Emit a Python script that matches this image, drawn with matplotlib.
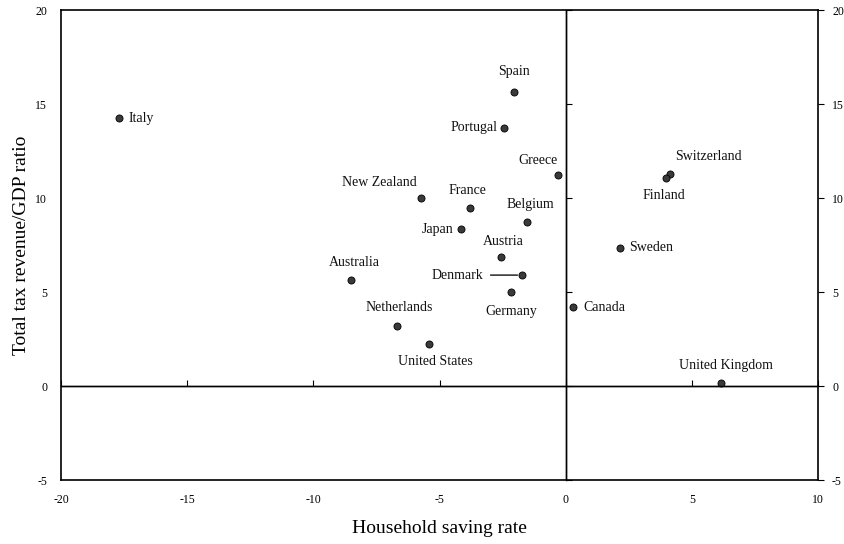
import matplotlib
matplotlib.use("Agg")
import matplotlib.pyplot as plt

plt.rcParams['font.family'] = ['Liberation Serif', 'DejaVu Serif']
plt.rcParams['axes.unicode_minus'] = False

# ===== データ =====
countries = ["Italy", "Spain", "Portugal", "Greece", "New Zealand", "France",
             "Belgium", "Japan", "Austria", "Denmark", "Australia", "Germany",
             "Netherlands", "United States", "Canada", "Switzerland", "Finland",
             "Sweden", "United Kingdom"]
saving = [-17.7, -2.05, -2.45, -0.3, -5.75, -3.8,
          -1.55, -4.15, -2.55, -1.75, -8.5, -2.15,
          -6.7, -5.4, 0.3, 4.15, 3.97,
          2.15, 6.15]
tax = [14.25, 15.65, 13.75, 11.2, 10.0, 9.45,
       8.75, 8.35, 6.85, 5.9, 5.65, 5.0,
       3.2, 2.25, 4.2, 11.3, 11.08,
       7.35, 0.15]

# ラベル位置 (pixel offset, ha)
label_pos = {
    "Italy": (9, 0, "left"), "Spain": (0, 20, "center"),
    "Portugal": (-6, 0, "right"), "Greece": (-20, 15, "center"),
    "New Zealand": (-41, 16, "center"), "France": (-2, 18, "center"),
    "Belgium": (4, 17, "center"), "Japan": (-8, 0, "right"),
    "Austria": (2, 16, "center"), "Denmark": (-38, 0, "right"),
    "Australia": (3, 17, "center"), "Germany": (0, -19, "center"),
    "Netherlands": (3, 18, "center"), "United States": (6, -18, "center"),
    "Canada": (10, 0, "left"), "Switzerland": (38, 17, "center"),
    "Finland": (-2, -18, "center"), "Sweden": (9, 0, "left"),
    "United Kingdom": (5, 18, "center"),
}

fig = plt.figure(figsize=(8.45, 5.44), dpi=100)
ax = fig.add_axes([0.0722, 0.1176, 0.896, 0.864])

ax.set_xlim(-20, 10)
ax.set_ylim(-5, 20)
ax.set_xticks(range(-20, 11, 5))
ax.set_yticks(range(-5, 21, 5))
for s in ax.spines.values():
    s.set_linewidth(1.2)

ax.tick_params(axis="both", labelsize=8.5, length=0, pad=10)
ax.tick_params(axis="y", right=True, labelright=True)
ax.tick_params(axis="y", which="both", right=True, length=4, direction="out",
               left=False, pad=6)

# ゼロ線
ax.axhline(0, color="black", lw=1.0)
ax.axvline(0, color="black", lw=1.0)
az = fig.add_axes(ax.get_position(), sharex=ax, sharey=ax)
az.patch.set_visible(False)
for k in ["top", "right"]:
    az.spines[k].set_visible(False)
az.spines["left"].set_position(("data", 0))
az.spines["bottom"].set_position(("data", 0))
az.spines["left"].set_linewidth(1.0)
az.spines["bottom"].set_linewidth(1.0)
az.tick_params(direction="in", length=4, labelleft=False, labelbottom=False)

ax.scatter(saving, tax, s=26, color="#3a3a3a", edgecolor="black",
           linewidth=0.6, zorder=5)

for name, x, y in zip(countries, saving, tax):
    dx, dy, ha = label_pos[name]
    if name == "Denmark":
        ax.annotate(name, (x, y), xytext=(dx, dy), textcoords="offset pixels",
                    ha=ha, va="center", fontsize=10, color="#111",
                    arrowprops=dict(arrowstyle="-", lw=1.0, color="#111",
                                    shrinkA=3, shrinkB=3))
    else:
        ax.annotate(name, (x, y), xytext=(dx, dy), textcoords="offset pixels",
                    ha=ha, va="center", fontsize=10, color="#111")

ax.set_xlabel("Household saving rate", fontsize=14, labelpad=10)
ax.set_ylabel("Total tax revenue/GDP ratio", fontsize=14, labelpad=4)

fig.savefig("out.png", dpi=100)
